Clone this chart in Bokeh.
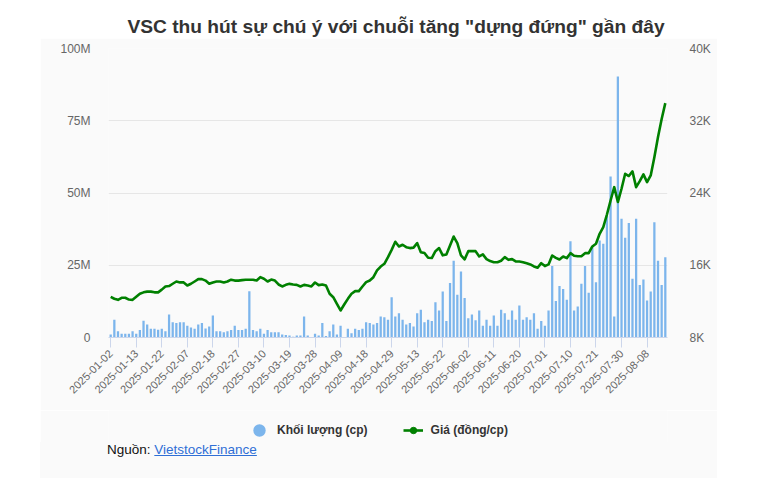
import math
import pandas as pd
from bokeh.plotting import figure
from bokeh.models import (Range1d, LinearAxis, FixedTicker, Legend, LegendItem,
                          Div, Spacer, ColumnDataSource)
from bokeh.layouts import column, row
from bokeh.embed import file_html
from bokeh.resources import INLINE

# ---------------- data ----------------
holidays = ["2025-01-01", "2025-01-27", "2025-01-28", "2025-01-29", "2025-01-30",
            "2025-01-31", "2025-04-07", "2025-04-30", "2025-05-01", "2025-05-02"]
dates = [d.strftime("%Y-%m-%d") for d in pd.bdate_range("2025-01-02", "2025-08-15")
         if d.strftime("%Y-%m-%d") not in holidays]

# trading volume, millions of shares
volume_m = [
    1.0, 6.1, 2.2, 1.3, 1.3, 1.3, 2.2, 1.3, 2.6, 5.8,
    4.5, 3.0, 3.0, 2.7, 3.0, 2.2, 8.0, 5.3, 5.0, 5.3,
    5.3, 4.1, 3.5, 3.0, 4.5, 5.0, 3.1, 3.8, 7.6, 2.2,
    2.2, 1.8, 2.2, 2.6, 4.1, 2.6, 2.6, 3.0, 16.0, 2.6,
    2.2, 3.0, 1.3, 2.6, 1.8, 1.8, 1.8, 1.0, 0.9, 0.7,
    0.3, 0.7, 0.7, 7.3, 0.7, 0.2, 1.3, 0.7, 5.0, 0.5,
    2.2, 4.5, 1.0, 4.1, 0.2, 3.0, 1.5, 3.0, 2.6, 3.0,
    5.3, 5.0, 4.5, 5.0, 7.3, 7.0, 6.1, 13.9, 7.3, 8.4,
    6.1, 4.5, 5.0, 3.8, 8.4, 9.6, 5.3, 6.1, 5.7, 12.2,
    9.3, 15.9, 5.7, 18.9, 26.6, 14.8, 22.8, 13.7, 6.7, 8.0,
    6.0, 9.3, 4.1, 6.1, 4.1, 7.6, 4.1, 9.6, 8.4, 6.1,
    9.3, 6.1, 11.1, 6.1, 7.0, 6.1, 8.4, 3.0, 5.7, 4.1,
    9.3, 24.7, 12.6, 17.8, 16.8, 13.1, 33.3, 9.3, 10.7, 18.6,
    24.7, 15.5, 31.2, 19.1, 33.6, 32.4, 42.2, 55.7, 7.3, 90.3,
    41.1, 34.5, 39.6, 20.3, 41.1, 18.2, 20.1, 12.8, 15.9, 39.9,
    26.6, 18.2, 27.8,
]

# closing price, thousand VND per share
price_k = [
    12.5, 12.29, 12.17, 12.4, 12.4, 12.2, 12.17, 12.5, 12.84, 13.0,
    13.08, 13.08, 13.0, 13.0, 13.3, 13.65, 13.7, 13.95, 14.2, 14.1,
    14.1, 13.76, 13.95, 14.2, 14.46, 14.46, 14.3, 13.95, 14.1, 14.2,
    14.2, 14.1, 14.2, 14.4, 14.3, 14.3, 14.35, 14.4, 14.4, 14.39,
    14.31, 14.68, 14.5, 14.2, 14.42, 14.31, 13.87, 13.65, 13.83, 13.94,
    13.87, 13.83, 13.65, 13.83, 13.76, 13.65, 14.09, 13.8, 13.87, 13.76,
    12.84, 12.46, 11.73, 10.99, 11.65, 12.28, 12.84, 13.13, 13.13, 13.65,
    14.13, 14.31, 14.68, 15.42, 15.86, 16.16, 16.9, 17.7, 18.6, 18.08,
    18.27, 18.0, 17.9, 17.95, 18.45, 17.45, 17.35, 16.83, 16.8, 17.56,
    17.9, 17.1, 17.2, 18.19, 19.18, 18.45, 17.1, 16.65, 17.56, 17.56,
    17.56, 16.98, 17.2, 16.68, 16.46, 16.34, 16.34, 16.5, 16.9, 16.6,
    16.68, 16.42, 16.42, 16.34, 16.23, 16.09, 15.87, 15.72, 16.23, 15.91,
    16.09, 17.08, 16.82, 16.64, 16.97, 16.79, 17.34, 17.05, 17.0, 17.0,
    17.34, 17.34, 18.08, 18.38, 19.48, 20.22, 21.62, 23.17, 24.65, 23.0,
    24.47, 26.13, 25.88, 26.39, 24.65, 25.31, 26.06, 25.2, 25.95, 27.97,
    30.2, 32.2, 33.95,
]

vol_ticks = [0, 25, 50, 75, 100]
vol_labels = ["0", "25M", "50M", "75M", "100M"]
price_ticks = [8, 16, 24, 32, 40]
price_labels = ["8K", "16K", "24K", "32K", "40K"]

title_text = 'VSC thu hút sự chú ý với chuỗi tăng "dựng đứng" gần đây'
vol_name = "Khối lượng (cp)"
price_name = "Giá (đồng/cp)"

# ---------------- figure ----------------
n = len(volume_m)
idx = list(range(n))
src = ColumnDataSource(dict(x=idx, vol=volume_m, price=price_k, date=dates[:n]))

FONT = "Liberation Sans"
BG = "#fafafa"
BLUE = "#7cb5ec"
GREEN = "#008000"

p = figure(width=677, height=372, output_backend="svg", toolbar_location=None,
           x_range=Range1d(-0.6, n - 0.4), y_range=Range1d(0, 100),
           min_border_top=10, min_border_left=68, min_border_right=50,
           min_border_bottom=73,
           background_fill_color=BG, border_fill_color=BG, outline_line_color=None,
           y_axis_location=None)
p.extra_y_ranges = {"price": Range1d(8, 40)}

p.vbar(x="x", top="vol", width=0.62, source=src, color=BLUE, line_width=0)
p.line(x="x", y="price", source=src, y_range_name="price", color=GREEN,
       line_width=2.6, line_join="round")

# left / right axes
yl = LinearAxis(ticker=FixedTicker(ticks=vol_ticks),
                major_label_overrides=dict(zip(vol_ticks, vol_labels)))
yr = LinearAxis(y_range_name="price", ticker=FixedTicker(ticks=price_ticks),
                major_label_overrides=dict(zip(price_ticks, price_labels)))
for ax, stand in ((yl, 12), (yr, 16)):
    ax.axis_line_color = None
    ax.major_tick_line_color = None
    ax.minor_tick_line_color = None
    ax.major_label_text_font = FONT
    ax.major_label_text_font_size = "12px"
    ax.major_label_text_color = "#666666"
    ax.major_label_standoff = stand
p.add_layout(yl, "left")
p.add_layout(yr, "right")

xt = list(range(0, n, 7))
xa = p.xaxis[0]
xa.ticker = FixedTicker(ticks=xt)
xa.major_label_overrides = {i: dates[i] for i in xt}
xa.major_label_orientation = math.pi / 4
xa.major_label_text_font = FONT
xa.major_label_text_font_size = "11px"
xa.major_label_text_color = "#666666"
xa.axis_line_color = "#ccd6eb"
xa.major_tick_line_color = "#ccd6eb"
xa.major_tick_out = 10
xa.major_tick_in = 0
xa.minor_tick_line_color = None
xa.major_label_standoff = 4

p.xgrid.visible = False
p.ygrid.grid_line_color = "#e6e6e6"
p.ygrid.ticker = FixedTicker(ticks=vol_ticks)

# ---------------- legend strip ----------------
lg = figure(width=677, height=32, output_backend="svg", toolbar_location=None,
            x_range=Range1d(0, 1), y_range=Range1d(0, 1),
            min_border=0, x_axis_location=None, y_axis_location=None,
            background_fill_color=BG, border_fill_color=BG, outline_line_color=None)
lg.xgrid.visible = False
lg.ygrid.visible = False
nan = float("nan")
leg_vol = lg.scatter(x=[nan], y=[nan], size=13, marker="circle",
                     fill_color=BLUE, line_color=BLUE, line_width=6)
leg_line = lg.line(x=[nan, nan], y=[nan, nan], color=GREEN, line_width=2.6)
leg_dot = lg.scatter(x=[nan], y=[nan], size=7, marker="circle",
                     fill_color=GREEN, line_color=GREEN, line_width=1)
legend = Legend(items=[LegendItem(label=vol_name, renderers=[leg_vol]),
                       LegendItem(label=price_name, renderers=[leg_line, leg_dot])],
                orientation="horizontal", location=(141, 4),
                border_line_color=None, background_fill_alpha=0,
                label_text_font=FONT, label_text_font_size="12px",
                label_text_font_style="bold", label_text_color="#333333",
                glyph_width=20, glyph_height=16, spacing=35, padding=2,
                label_standoff=8, margin=0)
lg.add_layout(legend)

title_div = Div(text=title_text, width=750, height=22, margin=(16, 0, 0, 21),
                styles={"font-family": FONT, "font-weight": "bold",
                        "font-size": "19.2px", "color": "#333333",
                        "text-align": "center", "line-height": "22px",
                        "white-space": "nowrap"})

src_div = Div(text=f'<div style="font-family:{FONT};font-size:13.5px;color:#111111;'
                   f'padding-left:67px;line-height:14px">Nguồn: '
                   f'<a href="#" style="color:#2f6fd6;text-decoration:underline">'
                   f'VietstockFinance</a></div>',
              width=677, height=36, margin=0, styles={"background-color": BG})

layout = column(title_div,
                row(Spacer(width=40, height=440, margin=0),
                    column(p, lg, src_div, margin=0), margin=0),
                margin=0)

open("out.html", "w").write(file_html(layout, INLINE))
